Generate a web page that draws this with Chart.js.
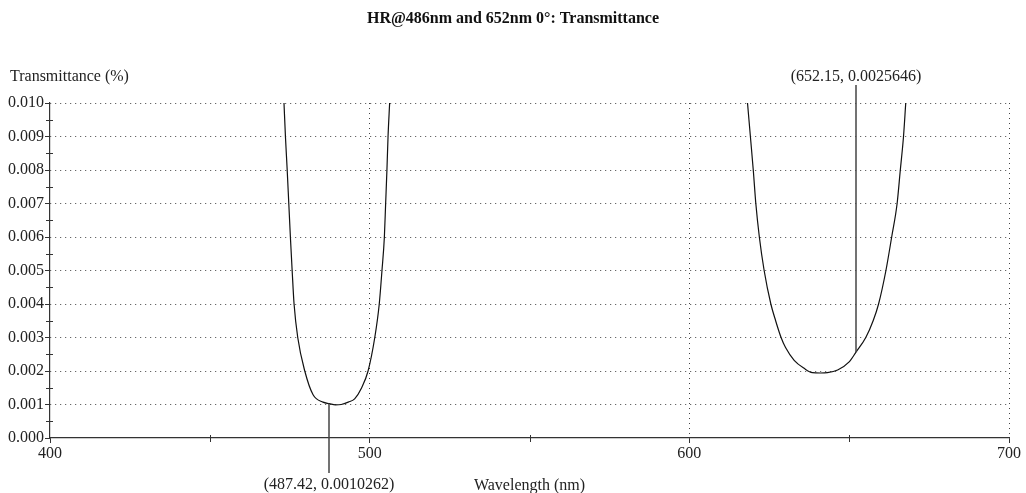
<!DOCTYPE html>
<html>
<head>
<meta charset="utf-8">
<script src="https://cdn.jsdelivr.net/npm/chart.js@4"></script>
<style>
  body { margin: 0; background: #fff; }
  #wrap { width: 1026px; height: 493px; }
</style>
</head>
<body>
<div id="wrap"><canvas id="chart"></canvas></div>
<script>
// reflection band near 486 nm
const bandAWl = [473.2, 473.65, 474.2, 474.7, 475.2, 475.75, 476.35, 477.5, 479.7, 482.3, 485.4, 487.42, 489.3, 491.1, 493.3, 495.3, 497.5, 499.5, 501.6, 503.0, 503.85, 504.6, 505.0, 505.4, 505.75, 506.25];
const bandAT  = [0.0100, 0.0090, 0.0080, 0.0070, 0.0060, 0.0050, 0.0040, 0.0030, 0.0020, 0.00129, 0.00107, 0.0010262, 0.00099, 0.00100, 0.00107, 0.00117, 0.00150, 0.0020, 0.0030, 0.0040, 0.0050, 0.0060, 0.0070, 0.0080, 0.0090, 0.0100];

// reflection band near 652 nm
const bandBWl = [618.2, 619.1, 620.0, 620.8, 621.9, 623.4, 625.5, 627.0, 628.7, 630.1, 632.8, 635.9, 638.5, 641.0, 643.2, 646.4, 650.0, 652.15, 655.2, 657.5, 659.2, 661.5, 663.3, 665.0, 666.0, 667.0, 667.7];
const bandBT  = [0.0100, 0.0090, 0.0080, 0.0070, 0.0060, 0.0050, 0.0040, 0.0035, 0.0030, 0.0027, 0.00232, 0.00208, 0.00195, 0.00194, 0.00195, 0.00203, 0.00227, 0.0025646, 0.0030, 0.0035, 0.0040, 0.0050, 0.0060, 0.0070, 0.0080, 0.0090, 0.0100];

// cursor readouts: wavelength, value, which way the leader goes
const markWl  = [487.42, 652.15];
const markT   = [0.0010262, 0.0025646];
const markDir = ['down', 'up'];

const xTicks = [400, 500, 600, 700];
const yTicks = [0.000, 0.001, 0.002, 0.003, 0.004, 0.005, 0.006, 0.007, 0.008, 0.009, 0.010];

const FONT = 'Liberation Serif, Times New Roman, serif';

const toPoints = (xs, ys) => xs.map((x, i) => ({ x: x, y: ys[i] }));
const isMajorY = v => Math.round(v * 10000) % 10 === 0;
const isMajorX = v => Math.round(v) % 100 === 0;

const extras = {
  id: 'extras',
  afterDraw(chart) {
    const ctx = chart.ctx;
    const xs = chart.scales.x, ys = chart.scales.y;
    const area = chart.chartArea;
    ctx.save();

    // minor tick marks straddle the axis lines
    ctx.strokeStyle = '#333';
    ctx.lineWidth = 1;
    ctx.beginPath();
    xs.ticks.forEach(t => {
      if (!isMajorX(t.value)) {
        const px = Math.round(xs.getPixelForValue(t.value)) + 0.5;
        ctx.moveTo(px, area.bottom - 3);
        ctx.lineTo(px, area.bottom + 4);
      }
    });
    ys.ticks.forEach(t => {
      if (!isMajorY(t.value)) {
        const py = Math.round(ys.getPixelForValue(t.value)) + 0.5;
        ctx.moveTo(area.left - 4, py);
        ctx.lineTo(area.left + 3, py);
      }
    });
    ctx.stroke();

    // cursor leaders and readouts
    ctx.strokeStyle = '#444';
    ctx.lineWidth = 1.5;
    ctx.fillStyle = '#222';
    ctx.font = '16px ' + FONT;
    ctx.textAlign = 'center';
    ctx.textBaseline = 'middle';
    markWl.forEach((wl, i) => {
      const px = Math.round(xs.getPixelForValue(wl));
      const py = ys.getPixelForValue(markT[i]);
      const end = markDir[i] === 'down' ? area.bottom + 35 : area.top - 18;
      ctx.beginPath();
      ctx.moveTo(px, py);
      ctx.lineTo(px, end);
      ctx.stroke();
      const ty = markDir[i] === 'down' ? end + 12 : end - 8;
      ctx.fillText('(' + wl + ', ' + markT[i] + ')', px, ty);
    });

    // chart title and y axis caption
    ctx.fillStyle = '#111';
    ctx.font = 'bold 16px ' + FONT;
    ctx.fillText('HR@486nm and 652nm 0°: Transmittance', chart.width / 2, 19);
    ctx.font = '16px ' + FONT;
    ctx.textAlign = 'left';
    ctx.fillStyle = '#222';
    ctx.fillText('Transmittance (%)', 10, 77);
    ctx.restore();
  }
};

const ctx = document.getElementById('chart').getContext('2d');
new Chart(ctx, {
  type: 'line',
  data: {
    datasets: [
      { data: toPoints(bandAWl, bandAT), borderColor: '#111', borderWidth: 1.2, pointRadius: 0, cubicInterpolationMode: 'monotone' },
      { data: toPoints(bandBWl, bandBT), borderColor: '#111', borderWidth: 1.2, pointRadius: 0, cubicInterpolationMode: 'monotone' }
    ]
  },
  options: {
    responsive: true,
    maintainAspectRatio: false,
    animation: false,
    layout: { padding: { top: 103, right: 17, left: 0, bottom: 0 } },
    plugins: {
      legend: { display: false },
      tooltip: { enabled: false },
      title: { display: false }
    },
    scales: {
      x: {
        type: 'linear',
        min: xTicks[0],
        max: xTicks[xTicks.length - 1],
        afterFit: s => { s.height = 55; },
        ticks: {
          stepSize: 50,
          padding: 1,
          color: '#222',
          font: { family: FONT, size: 16 },
          maxRotation: 0,
          autoSkip: false,
          callback: v => xTicks.includes(v) ? String(v) : ''
        },
        grid: {
          tickLength: 5,
          color: c => (c.tick && isMajorX(c.tick.value) && c.tick.value > xTicks[0]) ? '#444' : 'rgba(0,0,0,0)',
          tickColor: c => (c.tick && isMajorX(c.tick.value)) ? '#333' : 'rgba(0,0,0,0)'
        },
        border: { color: '#333', width: 1.2, dash: [1, 4] },
        title: {
          display: true,
          text: 'Wavelength (nm)',
          color: '#222',
          font: { family: FONT, size: 16 },
          padding: { top: 0, bottom: -2 }
        }
      },
      y: {
        min: yTicks[0],
        max: yTicks[yTicks.length - 1],
        afterFit: s => { s.width = 50; },
        ticks: {
          stepSize: 0.0005,
          padding: 1,
          color: '#222',
          font: { family: FONT, size: 16 },
          autoSkip: false,
          callback: v => isMajorY(v) ? v.toFixed(3) : ''
        },
        grid: {
          tickLength: 5,
          color: c => (c.tick && isMajorY(c.tick.value) && c.tick.value > 0) ? '#444' : 'rgba(0,0,0,0)',
          tickColor: c => (c.tick && isMajorY(c.tick.value)) ? '#333' : 'rgba(0,0,0,0)'
        },
        border: { color: '#333', width: 1.2, dash: [1, 4] }
      }
    }
  },
  plugins: [extras]
});
</script>
</body>
</html>
